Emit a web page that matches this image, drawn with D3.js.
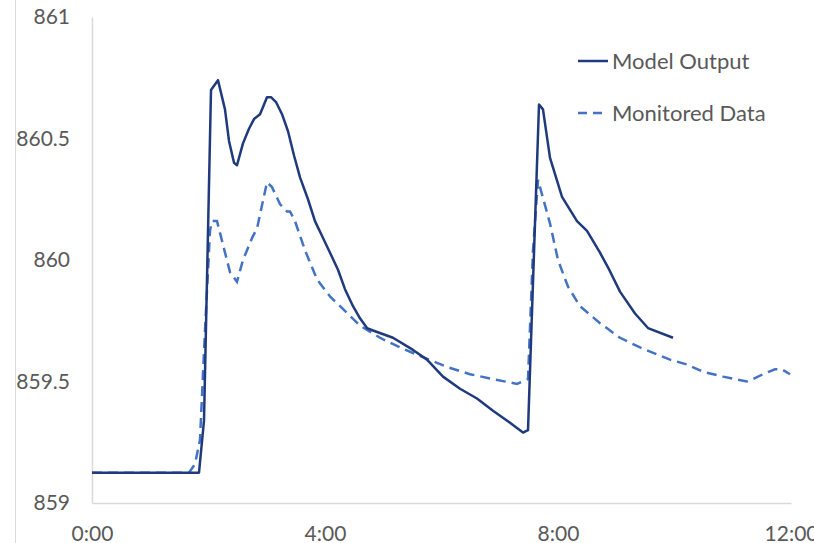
<!DOCTYPE html>
<html>
<head>
<meta charset="utf-8">
<script src="https://cdn.jsdelivr.net/npm/d3@7"></script>
<style>
  html, body { margin: 0; padding: 0; background: #fff; }
  svg text { font-family: Lato, "Open Sans", sans-serif; fill: #595959; }
</style>
</head>
<body>
<div id="mainDiv"></div>
<script>
// hours since 0:00, water level
var modelHours = [0, 1.837, 1.923, 2.043, 2.163, 2.283, 2.352, 2.438, 2.489, 2.592, 2.695, 2.781, 2.884, 2.936,
    3.004, 3.073, 3.159, 3.262, 3.365, 3.468, 3.571, 3.708, 3.828, 3.948, 4.086, 4.223, 4.343, 4.481, 4.601,
    4.721, 4.824, 5.167, 5.511, 5.751, 6.026, 6.318, 6.609, 6.884, 7.176, 7.399, 7.485, 7.674, 7.742, 7.863,
    8.069, 8.326, 8.498, 8.721, 8.858, 9.064, 9.322, 9.545, 9.974];
var modelLevel = [859.125, 859.125, 859.34, 860.70, 860.74, 860.62, 860.49, 860.40, 860.39, 860.48, 860.54, 860.58, 860.60, 860.63,
    860.67, 860.67, 860.65, 860.60, 860.53, 860.43, 860.34, 860.25, 860.16, 860.10, 860.03, 859.96, 859.88, 859.81, 859.76,
    859.72, 859.71, 859.68, 859.63, 859.59, 859.52, 859.47, 859.43, 859.38, 859.33, 859.29, 859.30, 860.64, 860.62, 860.42,
    860.26, 860.16, 860.12, 860.03, 859.97, 859.87, 859.78, 859.72, 859.68];

var monitoredHours = [0, 1.665, 1.768, 1.854, 1.940, 2.026, 2.060, 2.146, 2.369, 2.489, 2.592, 2.747, 2.833, 3.004,
    3.090, 3.227, 3.348, 3.399, 3.485, 3.657, 3.863, 4.086, 4.258, 4.601, 4.944, 5.288, 5.682, 6.094, 6.489,
    6.884, 7.296, 7.485, 7.571, 7.657, 7.863, 8.000, 8.172, 8.378, 8.721, 9.064, 9.408, 9.923, 10.215, 10.489,
    10.833, 11.245, 11.348, 11.519, 11.725, 11.845, 11.983];
var monitoredLevel = [859.125, 859.125, 859.16, 859.26, 859.71, 860.12, 860.16, 860.16, 859.95, 859.91, 860.00, 860.09, 860.13, 860.32,
    860.30, 860.23, 860.20, 860.20, 860.16, 860.04, 859.92, 859.85, 859.81, 859.73, 859.68, 859.64, 859.60, 859.56, 859.53,
    859.51, 859.49, 859.51, 860.04, 860.33, 860.15, 860.00, 859.89, 859.81, 859.74, 859.68, 859.64, 859.59, 859.57, 859.54,
    859.52, 859.50, 859.51, 859.53, 859.55, 859.55, 859.53];

var xTicks = [0, 4, 8, 12];
var yTicks = [859, 859.5, 860, 860.5, 861];

var seriesNames = ['Model Output', 'Monitored Data'];

var _width = 814, _height = 543,
    _left = 92, _right = 791, _top = 17, _bottom = 503;

var svg = d3.select('#mainDiv')
    .append('svg')
    .attr('width', _width)
    .attr('height', _height);

var x = d3.scaleLinear().domain([0, 12]).range([_left, _right]);
var y = d3.scaleLinear().domain([859, 861]).range([_bottom, _top]);

// faint chart border on the left edge
svg.append('line')
    .attr('x1', 15.5).attr('x2', 15.5)
    .attr('y1', 0).attr('y2', _height)
    .attr('stroke', '#d9d9d9').attr('stroke-width', 1);

// axes
var xAxis = svg.append('g')
    .attr('transform', 'translate(0,' + _bottom + ')')
    .call(d3.axisBottom(x).tickValues(xTicks).tickSize(0).tickPadding(32)
        .tickFormat(function (d) { return d + ':00'; }));
var yAxis = svg.append('g')
    .attr('transform', 'translate(' + _left + ',0)')
    .call(d3.axisLeft(y).tickValues(yTicks).tickSize(0).tickPadding(22)
        .tickFormat(d3.format('')));

[xAxis, yAxis].forEach(function (ax) {
    ax.select('.domain').attr('stroke', '#d9d9d9').attr('stroke-width', 1.5);
    ax.selectAll('text')
        .style('font-family', 'Lato, "Open Sans", sans-serif')
        .style('font-size', '21px')
        .attr('fill', '#595959');
});
xAxis.selectAll('text').attr('dy', '0.3em');

var line = d3.line()
    .x(function (d) { return x(d[0]); })
    .y(function (d) { return y(d[1]); });

var monitored = monitoredHours.map(function (h, i) { return [h, monitoredLevel[i]]; });
var model = modelHours.map(function (h, i) { return [h, modelLevel[i]]; });

svg.append('path')
    .datum(monitored)
    .attr('d', line)
    .attr('fill', 'none')
    .attr('stroke', '#4472C4')
    .attr('stroke-width', 2.5)
    .attr('stroke-dasharray', '10,6');

svg.append('path')
    .datum(model)
    .attr('d', line)
    .attr('fill', 'none')
    .attr('stroke', '#1F3A7D')
    .attr('stroke-width', 2.5)
    .attr('stroke-linejoin', 'round');

// legend
var legend = svg.append('g').attr('transform', 'translate(578,0)');
legend.append('line')
    .attr('x1', 0).attr('x2', 30).attr('y1', 61).attr('y2', 61)
    .attr('stroke', '#1F3A7D').attr('stroke-width', 2.5);
legend.append('line')
    .attr('x1', 0).attr('x2', 30).attr('y1', 113).attr('y2', 113)
    .attr('stroke', '#4472C4').attr('stroke-width', 2.5)
    .attr('stroke-dasharray', '9,6');
legend.selectAll('text.leg')
    .data(seriesNames)
    .enter().append('text')
    .attr('class', 'leg')
    .attr('x', 34)
    .attr('y', function (d, i) { return 61 + i * 52; })
    .attr('dy', '0.35em')
    .style('font-size', '22px')
    .text(function (d) { return d; });
</script>
</body>
</html>
